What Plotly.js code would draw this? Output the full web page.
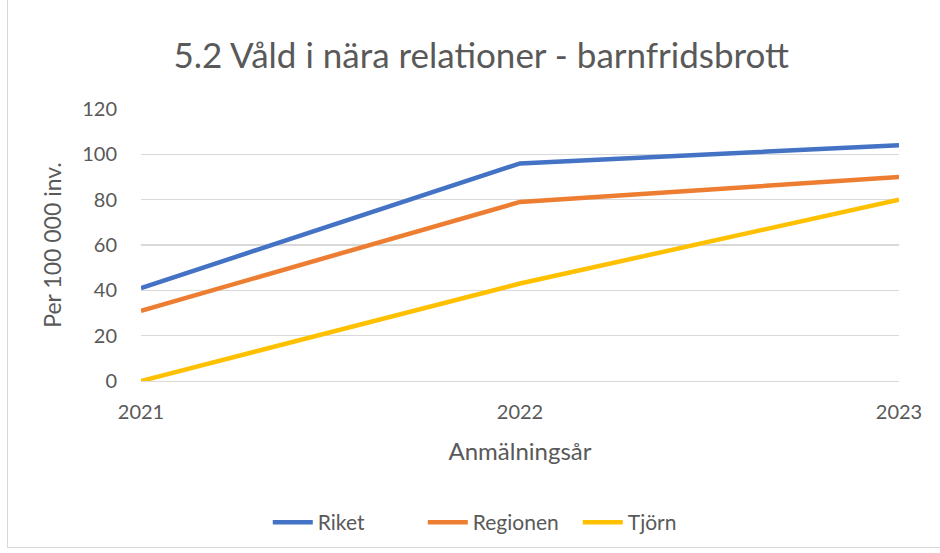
<!DOCTYPE html>
<html>
<head>
<meta charset="utf-8">
<script src="https://cdn.plot.ly/plotly-3.0.1.min.js"></script>
<style>
html,body{margin:0;padding:0;background:#fff;}
#chart{width:940px;height:553px;}
#frame{position:absolute;left:7px;top:-2px;width:1000px;height:550px;border:1px solid #d9d9d9;box-sizing:border-box;pointer-events:none;}
</style>
</head>
<body>
<div id="chart"></div>
<div id="frame"></div>
<script>
const years = [2021, 2022, 2023];
const yearLabels = ["2021", "2022", "2023"];
const riket = [41, 96, 104];
const regionen = [31, 79, 90];
const tjorn = [0, 43, 80];
const seriesNames = ["Riket", "Regionen", "Tjörn"];

const colors = ["#4472C4", "#ED7D31", "#FFC000"];
const seriesData = [riket, regionen, tjorn];
const font = "Lato, 'Open Sans', sans-serif";

const traces = seriesData.map((vals, i) => ({
  x: years, y: vals, name: seriesNames[i], type: "scatter", mode: "lines",
  line: {color: colors[i], width: 4.5, shape: "linear"}
}));

const layout = {
  width: 940, height: 553,
  margin: {l: 141, r: 41, t: 109, b: 171},
  paper_bgcolor: "#fff", plot_bgcolor: "#fff",
  font: {family: font, color: "#595959", size: 20},
  title: {text: "5.2 Våld i nära relationer - barnfridsbrott", font: {family: font, size: 35, color: "#595959"},
          x: 0.512, xanchor: "center", xref: "container", y: 0.9, yanchor: "middle", yref: "container"},
  xaxis: {
    range: [2021, 2023], tickvals: years, ticktext: yearLabels,
    showgrid: false, zeroline: false, showline: true, linecolor: "#d9d9d9", linewidth: 1.3,
    ticks: "outside", ticklen: 13, tickcolor: "rgba(0,0,0,0)", tickfont: {size: 20, color: "#595959"},
    title: {text: "Anmälningsår", font: {size: 24, color: "#595959"}, standoff: 21}
  },
  yaxis: {
    range: [0, 120], tickvals: [0,20,40,60,80,100,120], showgrid: true, gridcolor: "#d9d9d9", gridwidth: 1.3,
    zeroline: false, showline: false, ticks: "outside", ticklen: 19, tickcolor: "rgba(0,0,0,0)",
    tickfont: {size: 20, color: "#595959"},
    title: {text: "Per 100 000 inv.", font: {size: 23, color: "#595959"}, standoff: 14}
  },
  legend: {orientation: "h", x: 0.474, xanchor: "center", y: -0.515, yanchor: "middle",
           font: {size: 21, color: "#595959"}, itemwidth: 40, traceorder: "normal",
           entrywidth: 100, entrywidthmode: "pixels"},
  showlegend: true
};

Plotly.newPlot("chart", traces, layout, {displayModeBar: false, staticPlot: true});
</script>
</body>
</html>
